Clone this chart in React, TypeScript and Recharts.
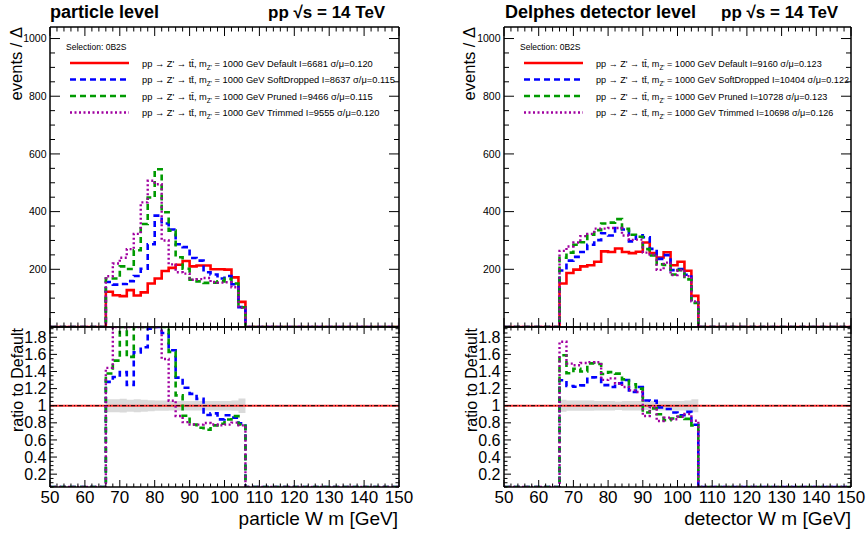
import React from "react";
import { ComposedChart, Line, Area, XAxis, YAxis, ReferenceLine } from "recharts";

const FONT = "'Liberation Sans', Arial, Helvetica, sans-serif";

// histogram binning: 2 GeV bins between 66 and 106 GeV
const binStarts = [66, 68, 70, 72, 74, 76, 78, 80, 82, 84, 86, 88, 90, 92, 94, 96, 98, 100, 102, 104];
const binEnd = 106;
const xRange = [50, 150];

// particle level, events / Δ
const particleDefault = [122, 110, 107, 128, 109, 120, 151, 168, 194, 205, 216, 229, 210, 213, 213, 200, 200, 199, 172, 87];
const particleSoftDrop = [156, 147, 149, 159, 177, 202, 287, 386, 359, 338, 287, 277, 239, 230, 190, 182, 168, 177, 148, 69];
const particlePruned = [168, 168, 210, 201, 266, 357, 449, 547, 398, 334, 242, 202, 164, 158, 153, 154, 158, 167, 151, 68];
const particleTrimmed = [176, 220, 240, 270, 323, 432, 507, 495, 300, 217, 190, 185, 164, 166, 170, 156, 154, 155, 138, 67];
const particleErr = [0.075, 0.075, 0.08, 0.07, 0.075, 0.07, 0.065, 0.06, 0.06, 0.055, 0.055, 0.055, 0.055, 0.055, 0.055, 0.055, 0.055, 0.055, 0.06, 0.085];

// Delphes detector level
const detectorDefault = [151, 187, 199, 210, 214, 226, 262, 260, 272, 260, 256, 261, 293, 256, 241, 259, 214, 226, 195, 108];
const detectorSoftDrop = [196, 230, 243, 260, 285, 301, 325, 317, 343, 338, 297, 318, 311, 271, 236, 249, 197, 201, 181, 84];
const detectorPruned = [240, 258, 285, 294, 320, 336, 359, 362, 374, 340, 320, 313, 270, 248, 217, 215, 182, 197, 165, 83];
const detectorTrimmed = [264, 279, 293, 315, 323, 341, 341, 343, 343, 317, 302, 303, 258, 251, 198, 223, 180, 197, 176, 89];
const detectorErr = [0.07, 0.06, 0.06, 0.06, 0.06, 0.055, 0.055, 0.055, 0.05, 0.055, 0.055, 0.055, 0.05, 0.055, 0.055, 0.055, 0.055, 0.055, 0.06, 0.075];

const particleLegend = ["Default I=6681 σ/μ=0.120", "SoftDropped I=8637 σ/μ=0.115", "Pruned I=9466 σ/μ=0.115", "Trimmed I=9555 σ/μ=0.120"];
const detectorLegend = ["Default I=9160 σ/μ=0.123", "SoftDropped I=10404 σ/μ=0.122", "Pruned I=10728 σ/μ=0.123", "Trimmed I=10698 σ/μ=0.126"];

const KEYS = ["def", "sd", "pr", "tr"];
const STYLE: Record<string, { color: string; width: number; dash?: string }> = {
  def: { color: "#ff0000", width: 2.6 },
  sd: { color: "#0000ff", width: 2.6, dash: "6 4" },
  pr: { color: "#009a00", width: 2.6, dash: "6 4" },
  tr: { color: "#a000a0", width: 2.4, dash: "2 2.5" },
};

const EV_DOMAIN = [0, 1040];
const RATIO_DOMAIN = [0.05, 1.92];

const xTicks = Array.from({ length: 51 }, (_, i) => xRange[0] + 2 * i);
const evTicks = Array.from({ length: 21 }, (_, i) => 50 * i);
const ratioTicks = Array.from({ length: 38 }, (_, i) => +(0.05 * (i + 1)).toFixed(2));

function histRows(h: Record<string, number[]>) {
  const zero: any = {};
  KEYS.forEach((k) => (zero[k] = 0));
  const rows: any[] = [{ x: xRange[0], ...zero }];
  binStarts.forEach((x, i) => {
    const r: any = { x };
    KEYS.forEach((k) => (r[k] = h[k][i]));
    rows.push(r);
  });
  rows.push({ x: binEnd, ...zero }, { x: xRange[1], ...zero });
  return rows;
}

function ratioRows(h: Record<string, number[]>, err: number[]) {
  const [lo, hi] = RATIO_DOMAIN;
  const clamp = (v: number) => Math.min(hi, Math.max(lo, v));
  const rows: any[] = [{ x: xRange[0], sd: lo, pr: lo, tr: lo, band: null }];
  binStarts.forEach((x, i) => {
    rows.push({
      x,
      sd: clamp(h.sd[i] / h.def[i]),
      pr: clamp(h.pr[i] / h.def[i]),
      tr: clamp(h.tr[i] / h.def[i]),
      band: [1 - err[i], 1 + err[i]],
    });
  });
  const last = err[err.length - 1];
  rows.push({ x: binEnd, sd: lo, pr: lo, tr: lo, band: [1 - last, 1 + last] });
  rows.push({ x: xRange[1], sd: lo, pr: lo, tr: lo, band: null });
  return rows;
}

const AXIS = { stroke: "#000", strokeWidth: 1.5 };

// tick marks drawn inside the frame (ROOT style), optional labels
const xMark = (major: number, minor: number, dir: number) => (props: any) => {
  const x = Number(props.x);
  const y = Number(props.y);
  const v = Number(props.payload.value);
  const len = v % 10 === 0 ? major : minor;
  return <path d={`M${x},${y}L${x},${y + dir * len}`} stroke="#000" strokeWidth={1} fill="none" />;
};

const yMark = (major: number, minor: number, dir: number, isMajor: (v: number) => boolean, lab?: (v: number) => string, fs = 10) => (props: any) => {
  const x = Number(props.x);
  const y = Number(props.y);
  const v = Number(props.payload.value);
  const m = isMajor(v);
  return (
    <g>
      <path d={`M${x},${y}L${x + dir * (m ? major : minor)},${y}`} stroke="#000" strokeWidth={1} fill="none" />
      {lab && m && (
        <text x={x - 3.5} y={y} dy="0.35em" textAnchor="end" fontSize={fs} fontFamily={FONT} fill="#000">
          {lab(v)}
        </text>
      )}
    </g>
  );
};

const xLabel = (props: any) => {
  const x = Number(props.x);
  const y = Number(props.y);
  const v = Number(props.payload.value);
  if (v % 10 !== 0) return <g />;
  return (
    <text x={x} y={y + 15} textAnchor="middle" fontSize={17} fontFamily={FONT} fill="#000">
      {v}
    </text>
  );
};

const evMajor = (v: number) => v % 200 === 0;
const rMajor = (v: number) => Math.abs(v / 0.2 - Math.round(v / 0.2)) < 1e-6;
const common = { tickSize: 0, tickMargin: 0, tickLine: false, interval: 0 as const, stroke: "#000", allowDataOverflow: true };

function seriesLines(keys: string[]) {
  return keys.map((k) => (
    <Line
      key={k}
      xAxisId="b"
      yAxisId="l"
      type="stepAfter"
      dataKey={k}
      stroke={STYLE[k].color}
      strokeWidth={STYLE[k].width}
      strokeDasharray={STYLE[k].dash}
      dot={false}
      activeDot={false}
      isAnimationActive={false}
    />
  ));
}

function UpperPad({ left, right, rows }: { left: number; right: number; rows: any[] }) {
  return (
    <div style={{ position: "absolute", left, top: 0 }}>
      <ComposedChart width={433} height={340} data={rows} margin={{ top: 26, right: right - 1, bottom: 12, left: 0 }}>
        <XAxis xAxisId="b" dataKey="x" type="number" domain={xRange} ticks={xTicks} height={1} axisLine={AXIS} tick={xMark(9, 4.5, -1)} {...common} />
        <XAxis xAxisId="t" orientation="top" dataKey="x" type="number" domain={xRange} ticks={xTicks} height={1} axisLine={AXIS} tick={xMark(9, 4.5, 1)} {...common} />
        <YAxis yAxisId="l" type="number" domain={EV_DOMAIN} ticks={evTicks} width={50} axisLine={AXIS} tick={yMark(10, 5, 1, evMajor, (v) => (v > 0 ? String(v) : ""), 10.5)} {...common} />
        <YAxis yAxisId="r" orientation="right" type="number" domain={EV_DOMAIN} ticks={evTicks} width={1} axisLine={AXIS} tick={yMark(10, 5, -1, evMajor)} {...common} />
        {seriesLines(KEYS)}
      </ComposedChart>
    </div>
  );
}

function LowerPad({ left, right, rows }: { left: number; right: number; rows: any[] }) {
  return (
    <div style={{ position: "absolute", left, top: 300 }}>
      <ComposedChart width={433} height={235} data={rows} margin={{ top: 26, right: right - 1, bottom: 0, left: 0 }}>
        <XAxis xAxisId="b" dataKey="x" type="number" domain={xRange} ticks={xTicks} height={1} axisLine={AXIS} tick={xMark(7, 3.5, -1)} {...common} />
        <XAxis xAxisId="blab" dataKey="x" type="number" domain={xRange} ticks={xTicks} height={47} axisLine={false} tick={xLabel} {...common} />
        <XAxis xAxisId="t" orientation="top" dataKey="x" type="number" domain={xRange} ticks={xTicks} height={1} axisLine={AXIS} tick={xMark(7, 3.5, 1)} {...common} />
        <YAxis yAxisId="l" type="number" domain={RATIO_DOMAIN} ticks={ratioTicks} width={50} axisLine={AXIS} tick={yMark(7, 3.5, 1, rMajor, (v) => (v === 1 ? "1" : v.toFixed(1)), 16)} {...common} />
        <YAxis yAxisId="r" orientation="right" type="number" domain={RATIO_DOMAIN} ticks={ratioTicks} width={1} axisLine={AXIS} tick={yMark(7, 3.5, -1, rMajor)} {...common} />
        <Area xAxisId="b" yAxisId="l" type="stepAfter" dataKey="band" stroke="none" fill="#cdcdcd" fillOpacity={0.75} isAnimationActive={false} activeDot={false} dot={false} />
        <ReferenceLine xAxisId="b" yAxisId="l" y={1} stroke="#ff3030" strokeWidth={2} />
        <ReferenceLine xAxisId="b" yAxisId="l" y={1} stroke="#000" strokeWidth={1} strokeDasharray="4 2 1 2" />
        {seriesLines(KEYS.slice(1))}
      </ComposedChart>
    </div>
  );
}

function LegendBox({ x0, sel, texts, fontSize }: { x0: number; sel: number; texts: string[]; fontSize: number }) {
  const rowsY = [63, 79.5, 96, 112.5];
  return (
    <g fontFamily={FONT} fill="#000">
      <text x={sel} y={50} fontSize={8.5}>Selection: 0B2S</text>
      {KEYS.map((k, i) => (
        <g key={k}>
          <line x1={x0} x2={x0 + 59} y1={rowsY[i]} y2={rowsY[i]} stroke={STYLE[k].color} strokeWidth={STYLE[k].width} strokeDasharray={STYLE[k].dash} />
          <text x={x0 + 72} y={rowsY[i] + 3.5} fontSize={fontSize}>
            <tspan>pp → Z' → tt̄, m</tspan>
            <tspan fontSize={fontSize * 0.7} dy={3}>Z'</tspan>
            <tspan dy={-3}> = 1000 GeV {texts[i]}</tspan>
          </text>
        </g>
      ))}
    </g>
  );
}

export default function App() {
  const pH = { def: particleDefault, sd: particleSoftDrop, pr: particlePruned, tr: particleTrimmed };
  const dH = { def: detectorDefault, sd: detectorSoftDrop, pr: detectorPruned, tr: detectorTrimmed };
  return (
    <div style={{ position: "absolute", left: 0, top: 0, width: 866, height: 535, background: "#fff", overflow: "hidden" }}>
      <UpperPad left={0} right={34} rows={histRows(pH)} />
      <LowerPad left={0} right={34} rows={ratioRows(pH, particleErr)} />
      <UpperPad left={454} right={36} rows={histRows(dH)} />
      <LowerPad left={454} right={36} rows={ratioRows(dH, detectorErr)} />
      <svg width={866} height={535} style={{ position: "absolute", left: 0, top: 0, pointerEvents: "none" }}>
        <g fontFamily={FONT} fill="#000">
          <text x={50} y={18} fontSize={18} fontWeight="bold">particle level</text>
          <text x={268} y={18} fontSize={17} fontWeight="bold">pp  √s = 14 TeV</text>
          <text x={505} y={18} fontSize={18} fontWeight="bold">Delphes detector level</text>
          <text x={721} y={18} fontSize={17} fontWeight="bold">pp  √s = 14 TeV</text>

          <text transform="translate(22,27) rotate(-90)" textAnchor="end" fontSize={16.5}>events / Δ</text>
          <text transform="translate(23,328) rotate(-90)" textAnchor="end" fontSize={16}>ratio to Default</text>
          <text transform="translate(475,27) rotate(-90)" textAnchor="end" fontSize={16.5}>events / Δ</text>
          <text transform="translate(477,328) rotate(-90)" textAnchor="end" fontSize={16}>ratio to Default</text>

          <text x={398} y={525} textAnchor="end" fontSize={19}>particle W m [GeV]</text>
          <text x={851} y={525} textAnchor="end" fontSize={19}>detector W m [GeV]</text>
        </g>
        <LegendBox x0={70} sel={66} texts={particleLegend} fontSize={9.3} />
        <LegendBox x0={524} sel={520} texts={detectorLegend} fontSize={9.1} />
      </svg>
    </div>
  );
}
